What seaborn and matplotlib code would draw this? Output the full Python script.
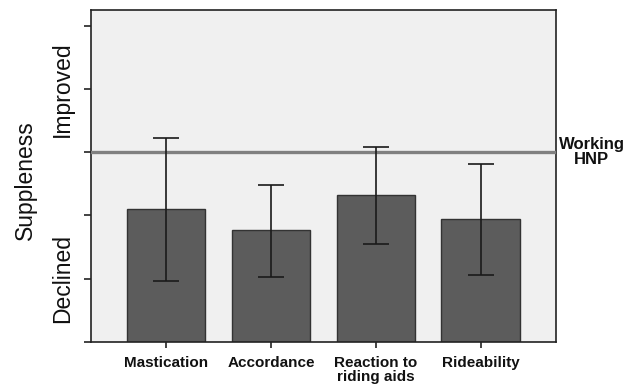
import matplotlib
matplotlib.use('Agg')
import matplotlib.pyplot as plt
import seaborn as sns
import numpy as np

# data (y scale: 0 = bottom, 3 = working HNP)
categories = ['Mastication', 'Accordance', 'Reaction to\nriding aids', 'Rideability']
means = [2.10, 1.77, 2.32, 1.94]
err_low = [0.97, 1.03, 1.55, 1.06]
err_high = [3.23, 2.49, 3.09, 2.82]
hnp_level = 3.0

sns.set_style('white')
plt.rcParams['font.family'] = ['Liberation Sans', 'DejaVu Sans']
plt.rcParams['text.color'] = '#111111'
plt.rcParams['xtick.color'] = '#111111'

fig = plt.figure(figsize=(6.28, 3.87), dpi=100)
ax = fig.add_axes([0.145, 0.1163, 0.740, 0.858])
ax.set_facecolor('#f0f0f0')

sns.barplot(x=categories, y=means, color='#5c5c5c', saturation=1, errorbar=None,
            width=0.75, edgecolor='#333333', linewidth=1, ax=ax)

means_arr = np.array(means)
yerr = [means_arr - np.array(err_low), np.array(err_high) - means_arr]
ax.errorbar(range(len(categories)), means, yerr=yerr, fmt='none', ecolor='#1a1a1a',
            elinewidth=1.2, capsize=9.7, capthick=1.2, zorder=4)

ax.axhline(hnp_level, color='#808080', linewidth=2.4, zorder=3)

ax.set_xlim(-0.714, 3.714)
ax.set_ylim(0, 5.25)
ax.set_yticks([0, 1, 2, 3, 4, 5])
ax.set_yticklabels([])
ax.tick_params(axis='y', direction='out', length=5, width=1.2, color='#222222', left=True)
ax.tick_params(axis='x', direction='out', length=4, width=1.2, color='#222222', bottom=True,
               pad=6)
for lab in ax.get_xticklabels():
    lab.set_fontsize(11)
    lab.set_fontweight('bold')
    lab.set_linespacing(1.05)

for s in ax.spines.values():
    s.set_color('#222222')
    s.set_linewidth(1.2)

ax.set_ylabel('')
fig.text(0.040, 0.535, 'Suppleness', rotation=90, fontsize=16.5, ha='center', va='center')
fig.text(0.099, 0.769, 'Improved', rotation=90, fontsize=16.5, ha='center', va='center')
fig.text(0.099, 0.280, 'Declined', rotation=90, fontsize=16.5, ha='center', va='center')
fig.text(0.942, 0.607, 'Working\nHNP', fontsize=12, fontweight='bold', ha='center',
         va='center', linespacing=1.0)

fig.savefig('out.png', dpi=100)
